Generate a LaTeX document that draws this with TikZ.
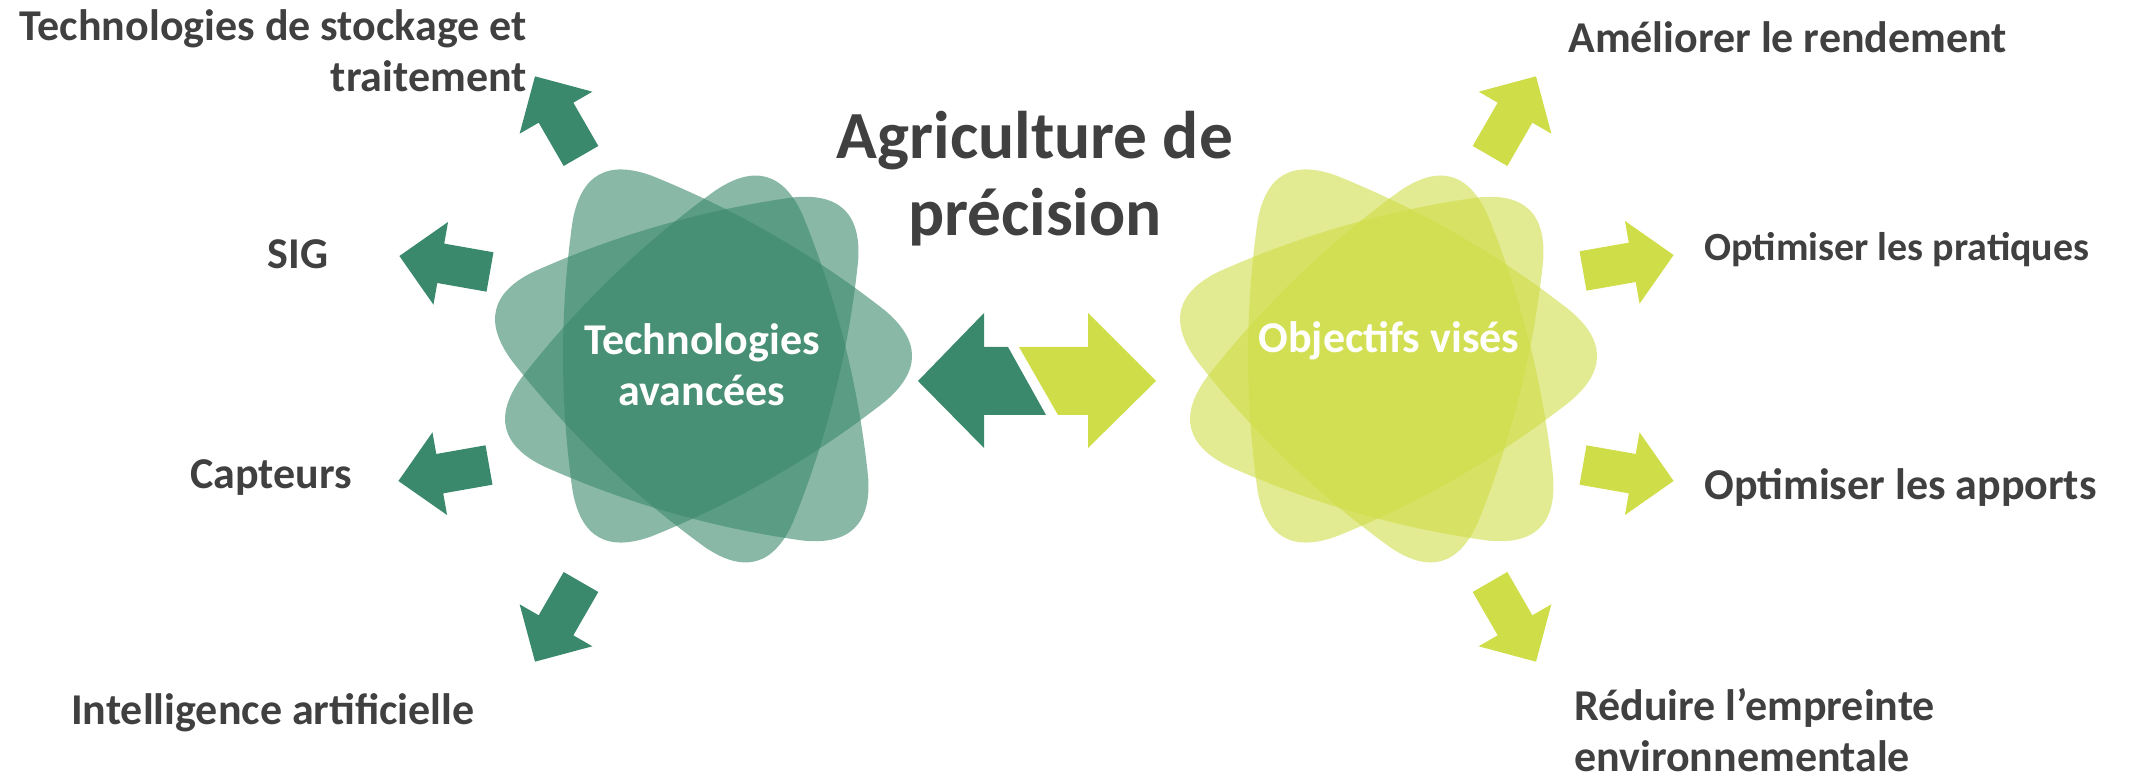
\documentclass[tikz,border=0pt]{standalone}
\usepackage{fontspec}
\setmainfont{Carlito}
\usetikzlibrary{positioning}

\definecolor{vertfonce}{RGB}{59,137,108}
\definecolor{vertclair}{RGB}{207,221,72}
\definecolor{gristexte}{RGB}{64,64,64}

\tikzset{
  petale/.pic={
    \fill[#1, fill opacity=0.6] (14.03:187.63)
      \foreach \k in {0,120,240} {
        .. controls ({\k+42.57}:150.09) and ({\k+77.43}:150.09) .. ({\k+105.97}:187.63)
        .. controls ({\k+116.02}:218.54) and ({\k+123.98}:218.54) .. ({\k+134.03}:187.63)
      } -- cycle;
  },
  fleche/.pic={
    \fill[#1] (0,-20) -- (50,-20) -- (50,-42) -- (92,0) -- (50,42) -- (50,20) -- (0,20) -- cycle;
  },
  etiquette/.style={text=gristexte, inner sep=0pt, font=\bfseries\fontsize{22}{25.5}\selectfont},
  centre/.style={text=white, inner sep=0pt, align=center, font=\bfseries\fontsize{22}{25.5}\selectfont},
  titre/.style={text=gristexte, inner sep=0pt, align=center, font=\bfseries\fontsize{33.7}{38.5}\selectfont}
}

\begin{document}
\begin{tikzpicture}[x=0.5pt, y=0.5pt]
      \useasboundingbox (0,0) rectangle (2141,781);

      % les deux fleurs
      \foreach \r/\dx/\dy in {0/0/9, 46/-4/5, 74/6/-13} {
        \pic[rotate=\r] at ({703+\dx},{416+\dy}) {petale=vertfonce};
        \pic[rotate=\r] at ({1388+\dx},{416+\dy}) {petale=vertclair};
      }

      \node[centre](techno) at (702,416) {Technologies\\avancées};
      \node[centre](objectifs) at (1389,440) {Objectifs visés};

      \node[titre](titre) at (1035,602) {Agriculture de\\précision};

      % double fleche centrale
      \fill[vertfonce] (918,400) -- (984,468) -- (984,434) -- (1008,434)
                       -- (1046,366) -- (984,366) -- (984,333) -- cycle;
      \fill[vertclair] (1019,434) -- (1088,434) -- (1088,468) -- (1156,400)
                       -- (1088,333) -- (1088,366) -- (1058,366) -- cycle;

      % fleches de gauche
      \pic[rotate=120] at (581,625) {fleche=vertfonce};
      \pic[rotate=170] at (490,509) {fleche=vertfonce};
      \pic[rotate=190] at (489,316) {fleche=vertfonce};
      \pic[rotate=240] at (581,199) {fleche=vertfonce};

      % fleches de droite
      \pic[rotate=60] at (1490,625) {fleche=vertclair};
      \pic[rotate=10] at (1583,510) {fleche=vertclair};
      \pic[rotate=-10] at (1583,316) {fleche=vertclair};
      \pic[rotate=-60] at (1490,199) {fleche=vertclair};

      \node[etiquette, align=right, anchor=east](stockage) at (527,730) {Technologies de stockage et\\traitement};
      \node[etiquette](sig) at (298,527) {SIG};
      \node[etiquette](capteurs) at (271,303) {Capteurs};
      \node[etiquette](ia) at (273,68) {Intelligence artificielle};

      \node[etiquette, anchor=west](rendement) at (1568,744) {Améliorer le rendement};
      \node[etiquette, anchor=west, font=\bfseries\fontsize{20}{24}\selectfont](pratiques) at (1704,531) {Optimiser les pratiques};
      \node[etiquette, anchor=west](apports) at (1704,294) {Optimiser les apports};
      \node[etiquette, align=left, anchor=west](empreinte) at (1574,51) {Réduire l’empreinte\\environnementale};

    \end{tikzpicture}
\end{document}
